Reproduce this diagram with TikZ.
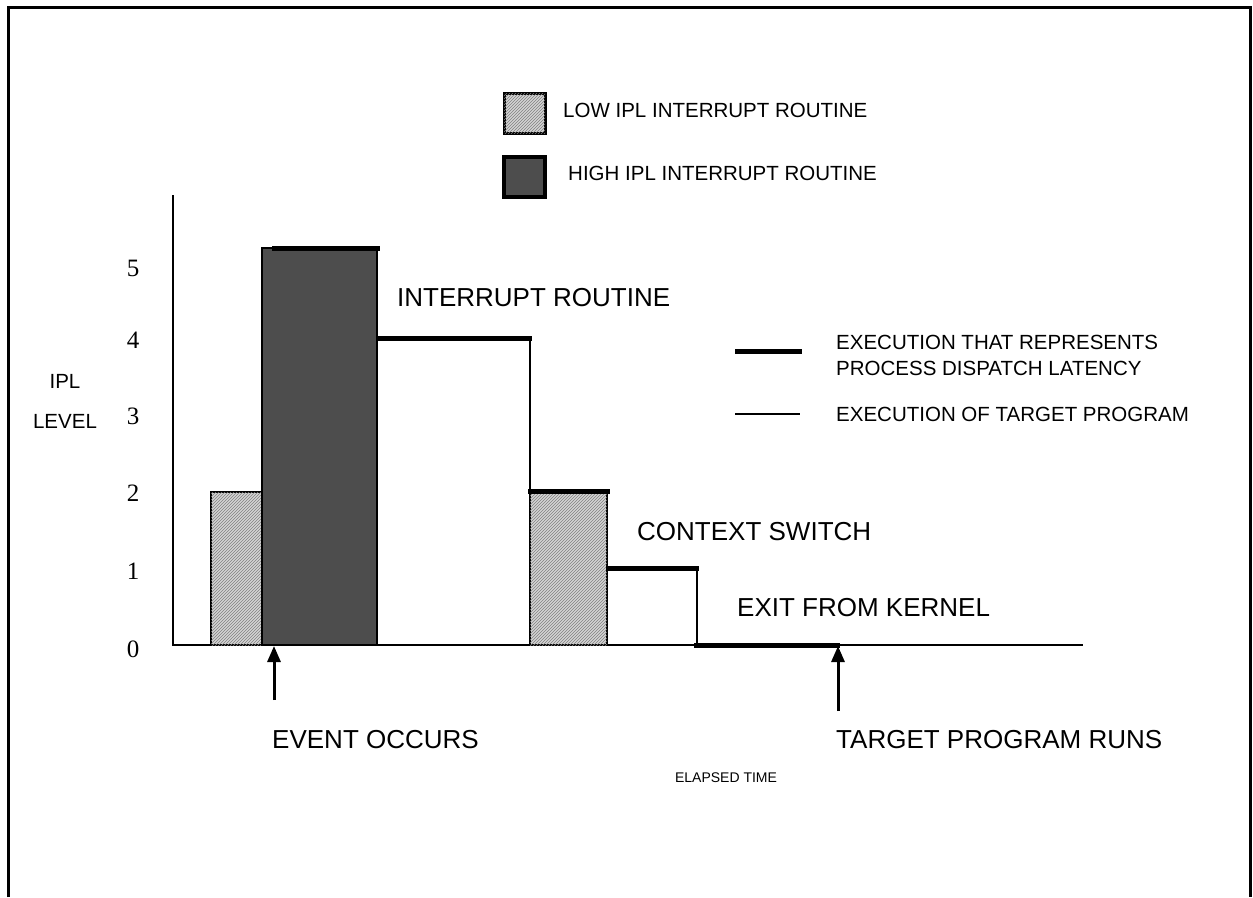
\documentclass[tikz,border=0pt]{standalone}
\usepackage{fontspec}
\setmainfont{Liberation Sans}
\newfontfamily\numfont{Liberation Serif}
\usetikzlibrary{arrows.meta,patterns}
\definecolor{highgray}{HTML}{4D4D4D}
\definecolor{lowgray}{HTML}{D4D4D4}
\begin{document}
\begin{tikzpicture}[x=1pt,y=-1pt,
  bigtext/.style={inner sep=0pt,anchor=west,font=\fontsize{26}{30}\selectfont},
  smalltext/.style={inner sep=0pt,anchor=west,font=\fontsize{20.5}{24}\selectfont},
  tinytext/.style={inner sep=0pt,font=\fontsize{14}{17}\selectfont},
  levelnum/.style={inner sep=0pt,font=\numfont\fontsize{25}{28}\selectfont},
  outline/.style={line width=2.5pt},
  latency/.style={line width=5pt},
  target/.style={line width=2.5pt},
  lowfill/.style={fill=lowgray,postaction={pattern=north east lines,pattern color=gray}},
  highfill/.style={fill=highgray},
  event/.style={line width=3pt,-{Triangle[width=13pt,length=16pt]}}
]
\useasboundingbox (0,0) rectangle (1253,897);

% outer frame, open at the bottom
\draw[line width=3pt] (8,897) -- (8,7) -- (1250,7) -- (1250,897);

% legend: bar shadings
\draw[lowfill,line width=3pt] (504,93) rectangle (545,133);
\node[smalltext] (lowlbl) at (563,110) {LOW IPL INTERRUPT ROUTINE};
\draw[highfill,line width=3.5pt] (504,157) rectangle (545,197);
\node[smalltext] (highlbl) at (568,173) {HIGH IPL INTERRUPT ROUTINE};

% axes
\draw[line width=2.7pt] (173,195) -- (173,645) -- (1083,645);

% level numbers
\node[levelnum] (n5) at (133,268) {5};
\node[levelnum] (n4) at (133,340) {4};
\node[levelnum] (n3) at (133,416) {3};
\node[levelnum] (n2) at (133,493) {2};
\node[levelnum] (n1) at (133,571) {1};
\node[levelnum] (n0) at (133,649) {0};
\node[smalltext,anchor=center] (ipl) at (65,381) {IPL};
\node[smalltext,anchor=center] (lvl) at (65,421) {LEVEL};

% first low IPL routine and the high IPL routine
\draw[lowfill,outline] (211,492) rectangle (262,645);
\draw[highfill,outline] (262,248) rectangle (377,645);
\draw[latency] (272,248) -- (380,248);

% interrupt routine at level 4
\draw[latency] (377,338) -- (532,338);
\draw[target] (530,338) -- (530,645);

% second low IPL routine
\draw[lowfill,outline] (530,491) rectangle (607,645);
\draw[latency] (528,491) -- (610,491);

% context switch at level 1
\draw[latency] (606,568) -- (699,568);
\draw[target] (697,568) -- (697,645);

% exit from kernel at level 0
\draw[latency] (694,645) -- (840,645);

% phase labels
\node[bigtext] (intr) at (397,298) {INTERRUPT ROUTINE};
\node[bigtext] (ctx) at (637,532) {CONTEXT SWITCH};
\node[bigtext] (exitk) at (737,608) {EXIT FROM KERNEL};

% legend: line weights
\coordinate (thickA) at (735,351);
\coordinate (thickB) at (802,351);
\coordinate (thinA) at (735,414);
\coordinate (thinB) at (800,414);
\draw[latency] (thickA) -- (thickB);
\draw[line width=2pt] (thinA) -- (thinB);
\node[smalltext] (lat1) at (836,342) {EXECUTION THAT REPRESENTS};
\node[smalltext] (lat2) at (836,368) {PROCESS DISPATCH LATENCY};
\node[smalltext] (tgt) at (836,414) {EXECUTION OF TARGET PROGRAM};

% event markers
\coordinate (evBase) at (274,700);
\coordinate (evTip) at (274,646);
\coordinate (tpBase) at (838,711);
\coordinate (tpTip) at (838,646);
\draw[event] (evBase) -- (evTip);
\draw[event] (tpBase) -- (tpTip);
\node[bigtext] (evlbl) at (272,740) {EVENT OCCURS};
\node[bigtext] (tplbl) at (836,740) {TARGET PROGRAM RUNS};

% time axis caption
\node[tinytext] (elapsed) at (726,778) {ELAPSED TIME};
\end{tikzpicture}
\end{document}
